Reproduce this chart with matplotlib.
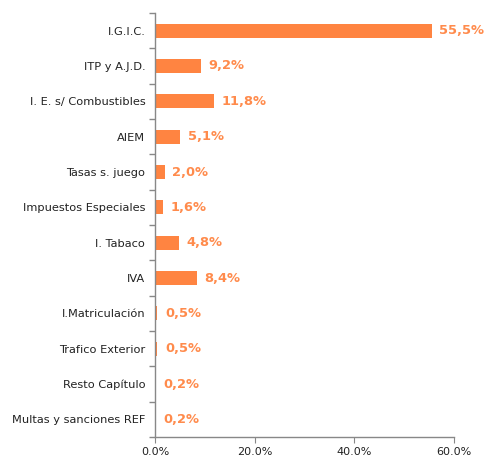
import matplotlib
matplotlib.use("Agg")
import matplotlib.pyplot as plt
import numpy as np
from matplotlib.ticker import FixedLocator, FuncFormatter

categories = ["I.G.I.C.", "ITP y A.J.D.", "I. E. s/ Combustibles", "AIEM", "Tasas s. juego",
              "Impuestos Especiales", "I. Tabaco", "IVA", "I.Matriculación", "Trafico Exterior",
              "Resto Capítulo", "Multas y sanciones REF"]
values = [55.5, 9.2, 11.8, 5.1, 2.0, 1.6, 4.8, 8.4, 0.5, 0.5, 0.2, 0.2]
labels = ["55,5%", "9,2%", "11,8%", "5,1%", "2,0%", "1,6%", "4,8%", "8,4%", "0,5%", "0,5%", "0,2%", "0,2%"]
xticks = [0, 20, 40, 60]

bar_color = "#FF8441"
text_color = "#FF8B4C"

fig = plt.figure(figsize=(4.86, 4.58), dpi=100)
ax = fig.add_axes([155/486, 1-437/458, (454-155)/486, (437-13)/458])

n = len(categories)
y = np.arange(n)
ax.barh(y, values, height=0.39, color=bar_color)
for yi, v, lab in zip(y, values, labels):
    ax.text(v + 1.5, yi, lab, va="center", ha="left", color=text_color,
            fontsize=9.4, fontweight="bold", family="DejaVu Sans")

ax.set_ylim(n - 0.5, -0.5)
ax.set_xlim(0, 60)
ax.set_yticks(y)
ax.set_yticklabels(categories, fontsize=8.2, color="#222222")
ax.yaxis.set_minor_locator(FixedLocator(np.arange(-0.5, n, 1.0)))
ax.tick_params(axis="y", which="major", length=0, pad=7)
ax.tick_params(axis="y", which="minor", length=4, color="#888888", width=1)
ax.set_xticks(xticks)
ax.xaxis.set_major_formatter(FuncFormatter(lambda v, p: f"{v:.1f}%"))
ax.tick_params(axis="x", length=4, color="#888888", labelsize=8, labelcolor="#222222", pad=3)

for s in ["top", "right"]:
    ax.spines[s].set_visible(False)
for s in ["left", "bottom"]:
    ax.spines[s].set_color("#888888")
    ax.spines[s].set_linewidth(1)

fig.savefig("out.png", dpi=100)
